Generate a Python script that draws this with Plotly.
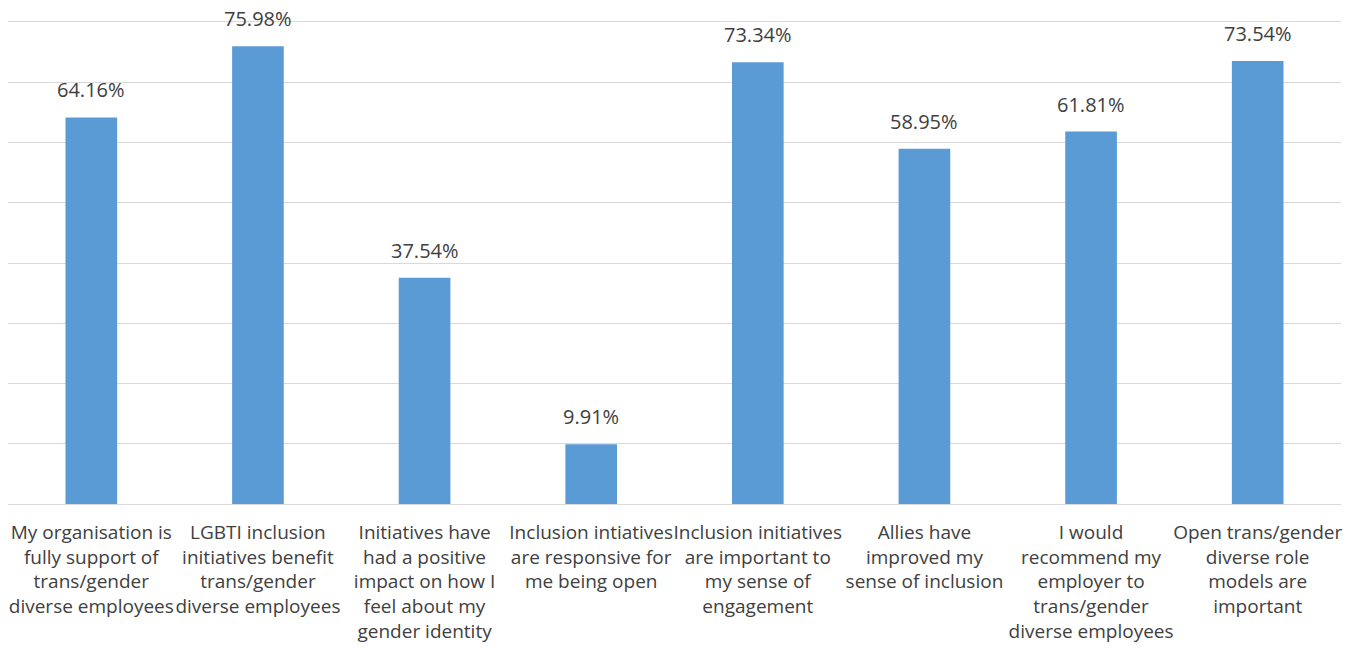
import plotly.graph_objects as go

categories = [
    "My organisation is<br>fully support of<br>trans/gender<br>diverse employees",
    "LGBTI inclusion<br>initiatives benefit<br>trans/gender<br>diverse employees",
    "Initiatives have<br>had a positive<br>impact on how I<br>feel about my<br>gender identity",
    "Inclusion intiatives<br>are responsive for<br>me being open",
    "Inclusion initiatives<br>are important to<br>my sense of<br>engagement",
    "Allies have<br>improved my<br>sense of inclusion",
    "I would<br>recommend my<br>employer to<br>trans/gender<br>diverse employees",
    "Open trans/gender<br>diverse role<br>models are<br>important",
]
values = [64.16, 75.98, 37.54, 9.91, 73.34, 58.95, 61.81, 73.54]

FONT = "Open Sans"
TEXT = "#404040"

fig = go.Figure(
    go.Bar(
        x=list(range(len(values))),
        y=values,
        marker=dict(color="#5B9BD5", line=dict(width=0)),
        hoverinfo="skip",
    )
)

# value labels above each bar
for i, v in enumerate(values):
    fig.add_annotation(
        x=i, y=v, text=f"{v:.2f}%", showarrow=False,
        yanchor="bottom", yshift=12,
        font=dict(family=FONT, size=20, color=TEXT),
    )

fig.update_layout(
    width=1355, height=648,
    margin=dict(l=8, r=14, t=22, b=144),
    paper_bgcolor="white", plot_bgcolor="white",
    bargap=0.69, showlegend=False,
    font=dict(family=FONT, size=19, color=TEXT),
)
fig.update_xaxes(
    tickmode="array", tickvals=list(range(len(values))), ticktext=categories,
    tickangle=0, showline=True, mirror=True, linecolor="#D9D9D9", linewidth=1,
    ticks="", ticklabelstandoff=11, automargin=False,
    range=[-0.5, len(values) - 0.5],
    tickfont=dict(family=FONT, size=19, color=TEXT),
)
fig.update_yaxes(
    range=[0, 80], dtick=10, showticklabels=False, automargin=False,
    showgrid=True, gridcolor="#D9D9D9", gridwidth=1, zeroline=False,
)

fig.write_html("out.html")
